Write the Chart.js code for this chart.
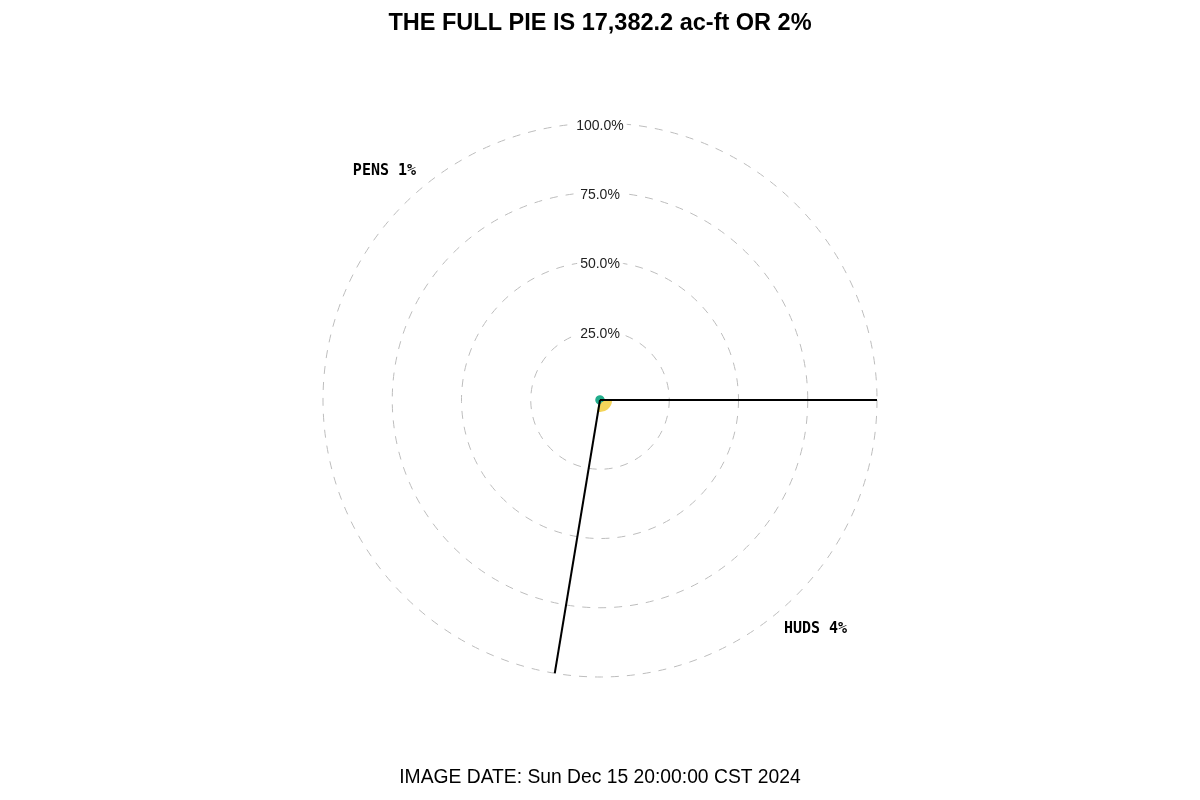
<!DOCTYPE html>
<html>
<head>
<meta charset="utf-8">
<title>Full pie</title>
<script src="https://cdn.jsdelivr.net/npm/chart.js@4/dist/chart.umd.min.js"></script>
<style>
    body { margin: 0; background: #fff; }
    #wrap { width: 1200px; height: 800px; }
</style>
</head>
<body>
<div id="wrap"><canvas id="pieChart" width="1200" height="800"></canvas></div>
<script>
// reservoirs in the pie, percent full (radius) and share of the pie (sector angle, degrees)
const reservoirs = ['HUDS', 'PENS'];
const percentFull = [4, 1];
const sectorAngles = [99.4, 260.6];
const sliceColors = ['#f4d55a', '#22ad8c'];
const ringTicks = [25, 50, 75, 100];

const titleText = 'THE FULL PIE IS 17,382.2 ac-ft OR 2%';
const footerText = 'IMAGE DATE: Sun Dec 15 20:00:00 CST 2024';

// black sector borders out to the 100% ring, ring labels at the top, outer labels
const sectorOutline = {
    id: 'sectorOutline',
    afterDatasetsDraw(chart) {
        const ctx = chart.ctx;
        const scale = chart.scales.r;
        const meta = chart.getDatasetMeta(0);
        const cx = scale.xCenter;
        const cy = scale.yCenter;
        const r = scale.getDistanceFromCenterForValue(ringTicks[ringTicks.length - 1]);

        ctx.save();
        ctx.strokeStyle = '#000';
        ctx.lineWidth = 2;
        meta.data.forEach(arc => {
            const a = arc.startAngle;
            ctx.beginPath();
            ctx.moveTo(cx, cy);
            ctx.lineTo(cx + r * Math.cos(a), cy + r * Math.sin(a));
            ctx.stroke();
        });

        // ring values, straight up from the centre
        ctx.font = '14px "Liberation Sans", Arial, sans-serif';
        ctx.textAlign = 'center';
        ctx.textBaseline = 'middle';
        ringTicks.forEach(v => {
            const y = cy - scale.getDistanceFromCenterForValue(v) + 3;
            const label = v.toFixed(1) + '%';
            const w = ctx.measureText(label).width;
            ctx.fillStyle = '#fff';
            ctx.fillRect(cx - w / 2 - 3, y - 8, w + 6, 16);
            ctx.fillStyle = '#222';
            ctx.fillText(label, cx, y);
        });

        ctx.fillStyle = '#000';
        ctx.font = 'bold 15px "DejaVu Sans Mono", monospace';
        meta.data.forEach((arc, i) => {
            const mid = (arc.startAngle + arc.endAngle) / 2 - 0.052;
            const lr = r * 1.135;
            ctx.fillText(reservoirs[i] + ' ' + percentFull[i] + '%', cx + lr * Math.cos(mid), cy + lr * Math.sin(mid));
        });
        ctx.restore();
    }
};

const ctx = document.getElementById('pieChart').getContext('2d');
new Chart(ctx, {
    type: 'polarArea',
    data: {
        labels: reservoirs,
        datasets: [{
            data: percentFull,
            angle: sectorAngles,
            backgroundColor: sliceColors,
            borderColor: sliceColors,
            borderWidth: [2, 4]
        }]
    },
    options: {
        responsive: false,
        animation: false,
        layout: { padding: 0 },
        plugins: {
            legend: { display: false },
            tooltip: { enabled: false },
            title: {
                display: true,
                text: titleText,
                color: '#000',
                font: { family: '"Liberation Sans", Arial, sans-serif', size: 23.5, weight: 'bold' },
                padding: { top: 9.9, bottom: 84.9 }
            },
            subtitle: {
                display: true,
                position: 'bottom',
                text: footerText,
                color: '#000',
                font: { family: '"Liberation Sans", Arial, sans-serif', size: 19.3, weight: 'normal' },
                padding: { top: 89.4, bottom: 10.4 }
            }
        },
        scales: {
            r: {
                min: 0,
                max: 100,
                startAngle: 90,
                angleLines: { display: false },
                grid: { color: '#bdbdbd', lineWidth: 1 },
                border: { dash: [8, 8] },
                pointLabels: { display: false },
                ticks: {
                    display: false,
                    stepSize: 25
                }
            }
        }
    },
    plugins: [sectorOutline]
});
</script>
</body>
</html>
